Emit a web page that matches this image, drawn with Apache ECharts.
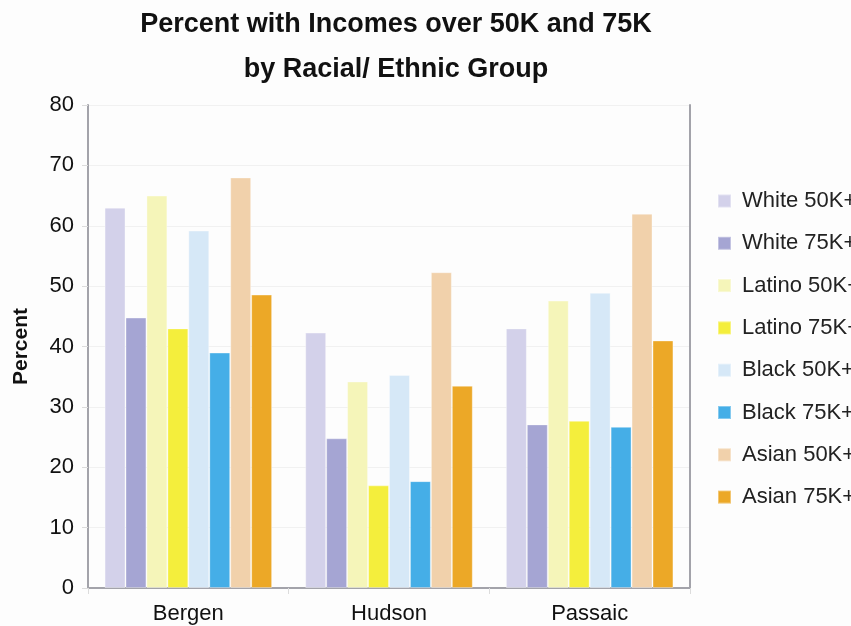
<!DOCTYPE html>
<html>
<head>
<meta charset="utf-8">
<script src="https://cdn.jsdelivr.net/npm/echarts@6/dist/echarts.min.js"></script>
<style>
  html, body { margin: 0; padding: 0; background: #fdfdfd; }
  #chart { width: 851px; height: 626px; }
</style>
</head>
<body>
<div id="chart"></div>
<script>
// Counties on the category axis
const counties = ['Bergen', 'Hudson', 'Passaic'];

// Percent of households above each income threshold, per county
const white50 = [63.0, 42.3, 43.0];
const white75 = [44.8, 24.8, 27.1];
const latino50 = [65.0, 34.2, 47.6];
const latino75 = [43.0, 17.0, 27.7];
const black50 = [59.2, 35.3, 48.9];
const black75 = [39.0, 17.7, 26.7];
const asian50 = [68.0, 52.3, 62.0];
const asian75 = [48.6, 33.5, 41.0];

const seriesNames = ['White 50K+', 'White 75K+', 'Latino 50K+', 'Latino 75K+',
                     'Black 50K+', 'Black 75K+', 'Asian 50K+', 'Asian 75K+'];
const seriesValues = [white50, white75, latino50, latino75, black50, black75, asian50, asian75];
const seriesColors = ['#d3d1ea', '#a5a5d3', '#f5f5b9', '#f4ee3c',
                      '#d6e8f7', '#45aee7', '#f1d1ab', '#eca827'];

const chart = echarts.init(document.getElementById('chart'));

chart.setOption({
  backgroundColor: '#fdfdfd',
  animation: false,
  title: {
    text: 'Percent with Incomes over 50K and 75K\nby Racial/ Ethnic Group',
    left: 391,
    top: -3,
    textAlign: 'center',
    textStyle: {
      fontFamily: '"Liberation Sans", Arial, sans-serif',
      fontSize: 27,
      fontWeight: 'bold',
      lineHeight: 45,
      color: '#111'
    }
  },
  legend: {
    orient: 'vertical',
    left: 712,
    top: 185,
    itemWidth: 13,
    itemHeight: 13,
    itemGap: 20.3,
    icon: 'rect',
    textStyle: {
      fontFamily: '"Liberation Sans", Arial, sans-serif',
      fontSize: 22,
      lineHeight: 21,
      color: '#222',
      padding: [0, 0, 0, 6]
    },
    data: seriesNames
  },
  grid: {
    left: 88,
    right: 161,
    top: 105,
    bottom: 38
  },
  xAxis: {
    type: 'category',
    data: counties,
    axisLine: { lineStyle: { color: '#a3a3aa', width: 2 } },
    axisTick: { show: true, length: 6, lineStyle: { color: '#dcdcdc' } },
    axisLabel: {
      fontFamily: '"Liberation Sans", Arial, sans-serif',
      fontSize: 22,
      color: '#111',
      margin: 15
    }
  },
  yAxis: [
    {
      type: 'value',
      min: 0,
      max: 80,
      interval: 10,
      name: 'Percent',
      nameLocation: 'middle',
      nameGap: 56,
      nameTextStyle: {
        fontFamily: '"Liberation Sans", Arial, sans-serif',
        fontSize: 21,
        fontWeight: 'bold',
        color: '#111'
      },
      axisLine: { show: true, lineStyle: { color: '#a3a3aa', width: 2 } },
      axisTick: { show: true, length: 6, lineStyle: { color: '#dcdcdc' } },
      axisLabel: {
        fontFamily: '"Liberation Sans", Arial, sans-serif',
        fontSize: 22,
        color: '#111',
        margin: 14
      },
      splitLine: { lineStyle: { color: '#f1f1f1', width: 1 } }
    },
    {
      type: 'value',
      min: 0,
      max: 80,
      interval: 10,
      position: 'right',
      axisLine: { show: true, lineStyle: { color: '#a3a3aa', width: 2 } },
      axisTick: { show: false },
      axisLabel: { show: false },
      splitLine: { show: false }
    }
  ],
  series: seriesNames.map((name, i) => ({
    name: name,
    type: 'bar',
    data: seriesValues[i],
    barGap: '0%',
    barCategoryGap: '16.5%',
    itemStyle: {
      color: seriesColors[i],
      borderColor: 'rgba(255,255,255,0.35)',
      borderWidth: 1
    }
  }))
});
</script>
</body>
</html>
